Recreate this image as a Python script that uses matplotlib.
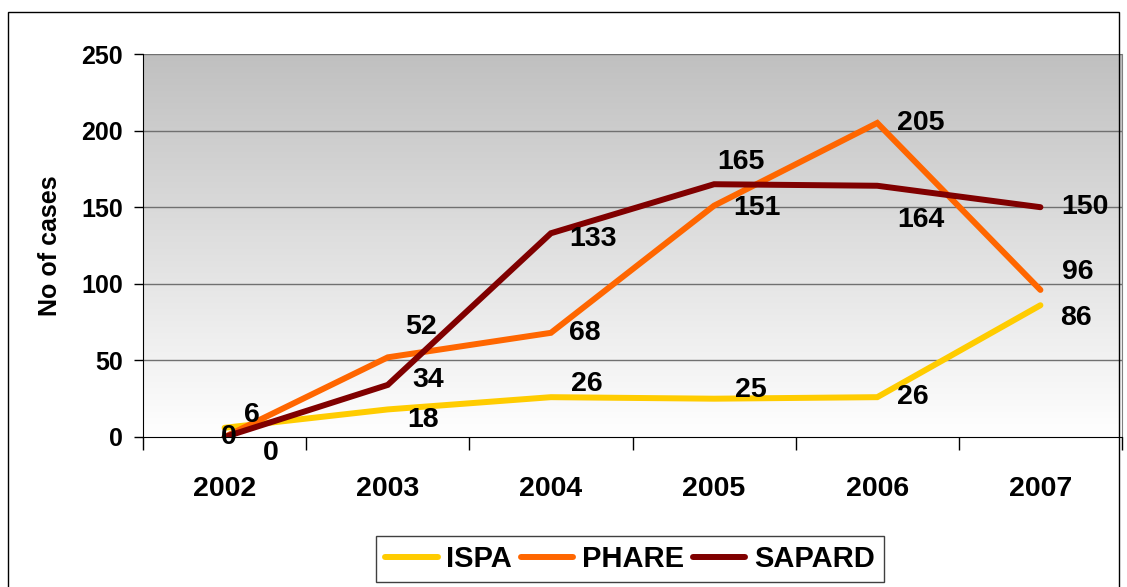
import numpy as np
import matplotlib.pyplot as plt
from matplotlib.patches import Rectangle

plt.rcParams['font.family'] = ['Liberation Sans', 'DejaVu Sans']
plt.rcParams['font.weight'] = 'bold'

years = ['2002', '2003', '2004', '2005', '2006', '2007']
ispa = [6, 18, 26, 25, 26, 86]
phare = [0, 52, 68, 151, 205, 96]
sapard = [0, 34, 133, 165, 164, 150]

# label offsets in pixels (dx, dy) for each point
ispa_off = [(27, 13), (35, -11), (36, 13), (37, 9), (36, 0), (36, -13)]
phare_off = [(4, 0), (33, 30), (34, 0), (43, -2), (44, 0), (37, 18)]
sapard_off = [(46, -16), (40, 5), (42, -6), (27, 22), (44, -34), (45, 0)]

W, H = 1127, 587
fig = plt.figure(figsize=(W / 100, H / 100), dpi=100)
ax = fig.add_axes([143 / W, 1 - 437 / H, (1122 - 143) / W, (437 - 54) / H])

x = np.arange(len(years))
ax.set_xlim(-0.5, len(years) - 0.5)
ax.set_ylim(0, 250)

# gradient background
grad = np.linspace(0, 1, 256).reshape(-1, 1)
ax.imshow(grad, cmap=plt.cm.colors.LinearSegmentedColormap.from_list('g', ['#ffffff', '#c0c0c0']),
          extent=[-0.5, len(years) - 0.5, 0, 250], aspect='auto', origin='lower', zorder=0)

for v in [50, 100, 150, 200, 250]:
    ax.axhline(v, color='#707070', lw=1, zorder=1)

series = [('ISPA', ispa, '#FFCC00', ispa_off),
          ('PHARE', phare, '#FF6600', phare_off),
          ('SAPARD', sapard, '#800000', sapard_off)]
for name, vals, col, offs in series:
    ax.plot(x, vals, color=col, lw=4.3, solid_capstyle='round', solid_joinstyle='miter',
            label=name, zorder=3)
for name, vals, col, offs in series:
    for xi, v, (dx, dy) in zip(x, vals, offs):
        ax.annotate(str(v), (xi, v), xytext=(dx, dy), textcoords='offset pixels',
                    ha='center', va='center', fontsize=20.5, fontweight='bold', zorder=5)

ax.set_yticks([0, 50, 100, 150, 200, 250])
ax.tick_params(axis='y', labelsize=18, length=6.5, width=1, direction='out', pad=8)
ax.set_xticks(np.arange(-0.5, len(years), 1), minor=False)
ax.set_xticklabels([])
ax.set_xticks(x, minor=True)
ax.set_xticklabels(years, minor=True)
ax.tick_params(axis='x', which='major', length=9, width=1, direction='out')
ax.tick_params(axis='x', which='minor', length=0, labelsize=20.5, pad=28)
for lab in ax.get_yticklabels() + ax.get_xticklabels(minor=True):
    lab.set_fontweight('bold')

ax.spines['top'].set_visible(False)
ax.spines['right'].set_color('#808080')
ax.spines['left'].set_color('black')
ax.spines['bottom'].set_color('black')

ax.set_ylabel('No of cases', fontsize=18, fontweight='bold', labelpad=14)

leg = fig.legend(loc='center', bbox_to_anchor=(630 / W, 1 - 559 / H), ncol=3,
                 prop={'weight': 'bold', 'size': 21}, handlelength=1.8,
                 handletextpad=0.3, columnspacing=0.3, fancybox=False,
                 edgecolor='#404040', framealpha=1, borderpad=0.3, borderaxespad=0)
leg.get_frame().set_linewidth(1)

# outer frame
fig.patches.append(Rectangle((8 / W, -0.01), (1119 - 8) / W, 1 - 12 / H + 0.01,
                             transform=fig.transFigure, fill=False, edgecolor='black', lw=1))

fig.savefig('out.png', dpi=100)
